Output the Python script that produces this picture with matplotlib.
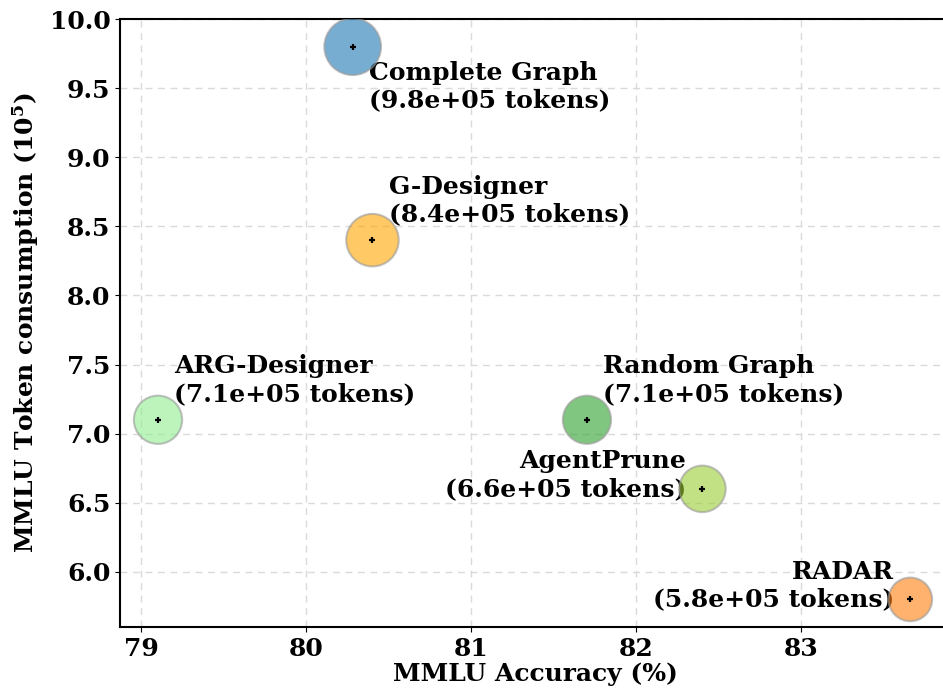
import matplotlib
matplotlib.use('Agg')
import matplotlib.pyplot as plt

plt.rcParams['font.family'] = 'DejaVu Serif'
plt.rcParams['font.weight'] = 'bold'
plt.rcParams['mathtext.fontset'] = 'dejavuserif'

methods = ['Complete Graph', 'G-Designer', 'ARG-Designer', 'Random Graph', 'AgentPrune', 'RADAR']
accuracy = [80.28, 80.4, 79.1, 81.7, 82.4, 83.66]
tokens = [9.8, 8.4, 7.1, 7.1, 6.6, 5.8]   # x 1e5
colors = ['#1f77b4', 'orange', 'lightgreen', '#2ca02c', 'yellowgreen', '#ff7f0e']
label_side = ['below', 'above', 'above', 'above', 'left', 'left']

fig = plt.figure(figsize=(9.43, 6.94), dpi=100)
ax = fig.add_axes([0.1273, 0.0965, 0.880, 0.876])

sizes = [t * 170 for t in tokens]
ax.scatter(accuracy, tokens, s=sizes, c=colors, alpha=0.6, edgecolors='#999999', linewidths=1.5, zorder=3)
ax.scatter(accuracy, tokens, marker='+', s=18, c='black', linewidths=1.6, zorder=4)

for m, x, y, side in zip(methods, accuracy, tokens, label_side):
    txt = f'{m}\n({y*1e5:.1e} tokens)'
    if side == 'below':
        ax.text(x + 0.1, y - 0.1, txt, ha='left', va='top', fontsize=18, fontweight='bold', zorder=2)
    elif side == 'above':
        ax.text(x + 0.1, y + 0.1, txt, ha='left', va='bottom', fontsize=18, fontweight='bold', zorder=2)
    else:
        ax.text(x - 0.1, y + 0.1, txt, ha='right', va='center', fontsize=18, fontweight='bold', zorder=2)

ax.set_xlim(78.87, 83.9)
ax.set_ylim(5.6, 10.0)
ax.set_xticks([79, 80, 81, 82, 83])
ax.set_yticks([6.0, 6.5, 7.0, 7.5, 8.0, 8.5, 9.0, 9.5, 10.0])
ax.set_yticklabels([f'{v:.1f}' for v in ax.get_yticks()])
ax.tick_params(labelsize=18)
ax.grid(True, linestyle=(0, (5, 4)), color='#dadada', linewidth=1.0, zorder=0)
ax.set_axisbelow(True)
for s in ax.spines.values():
    s.set_linewidth(1.5)

ax.set_xlabel('MMLU Accuracy (%)', fontsize=18, fontweight='bold', labelpad=1)
ax.set_ylabel(r'MMLU Token consumption $(10^5)$', fontsize=18, fontweight='bold', labelpad=6)

fig.savefig('out.png', dpi=100)
